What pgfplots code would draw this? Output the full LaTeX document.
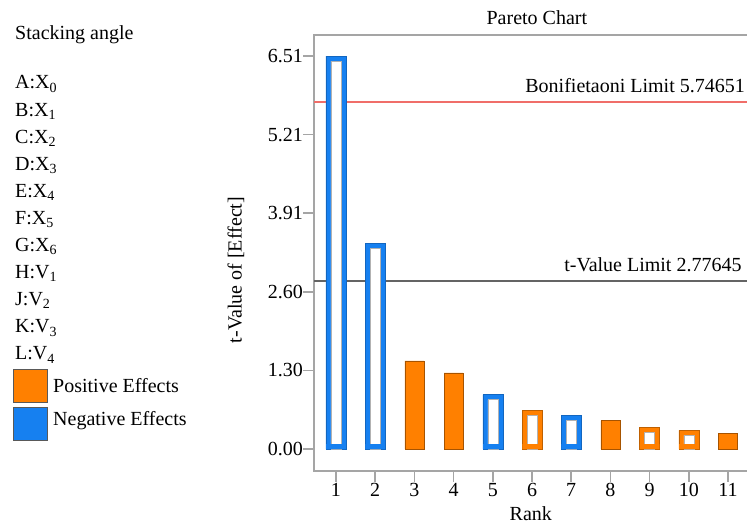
\documentclass[border=0pt]{standalone}
\usepackage{fontspec}
\setmainfont{Liberation Serif}
\usepackage{pgfplots}
\pgfplotsset{compat=1.18}
\definecolor{pblue}{RGB}{22,128,240}
\definecolor{porange}{RGB}{255,128,0}
\definecolor{axgray}{RGB}{165,165,165}
\definecolor{limred}{RGB}{240,110,105}
\definecolor{limgray}{RGB}{100,100,100}
\begin{document}
\fontsize{20}{24}\selectfont
\begin{tikzpicture}
\useasboundingbox (0,0) rectangle (747pt,527pt);
% left key
\node[anchor=base west, inner sep=0pt] at (15pt,487pt) {Stacking angle};
\node[anchor=base west, inner sep=0pt] at (15pt,438pt) {A:X\textsubscript{0}};
\node[anchor=base west, inner sep=0pt] at (15pt,410.9pt) {B:X\textsubscript{1}};
\node[anchor=base west, inner sep=0pt] at (15pt,383.8pt) {C:X\textsubscript{2}};
\node[anchor=base west, inner sep=0pt] at (15pt,356.7pt) {D:X\textsubscript{3}};
\node[anchor=base west, inner sep=0pt] at (15pt,329.6pt) {E:X\textsubscript{4}};
\node[anchor=base west, inner sep=0pt] at (15pt,302.5pt) {F:X\textsubscript{5}};
\node[anchor=base west, inner sep=0pt] at (15pt,275.4pt) {G:X\textsubscript{6}};
\node[anchor=base west, inner sep=0pt] at (15pt,248.3pt) {H:V\textsubscript{1}};
\node[anchor=base west, inner sep=0pt] at (15pt,221.2pt) {J:V\textsubscript{2}};
\node[anchor=base west, inner sep=0pt] at (15pt,194.1pt) {K:V\textsubscript{3}};
\node[anchor=base west, inner sep=0pt] at (15pt,167pt) {L:V\textsubscript{4}};
\filldraw[fill=porange, draw=black!65, line width=0.8pt] (13pt,125pt) rectangle (47pt,158pt);
\filldraw[fill=pblue, draw=black!65, line width=0.8pt] (13pt,87pt) rectangle (47pt,120pt);
\node[anchor=base west, inner sep=0pt] at (53pt,134pt) {Positive Effects};
\node[anchor=base west, inner sep=0pt] at (53pt,101pt) {Negative Effects};

\begin{axis}[
  at={(314pt,56pt)}, anchor=south west,
  scale only axis, width=433.6pt, height=436pt,
  xmin=0.439, xmax=11.5, ymin=-0.364, ymax=6.858,
  axis line style={draw=axgray, line width=1.5pt},
  tick style={draw=axgray, line width=1.5pt},
  tick align=outside, major tick length=11pt,
  tick pos=left,
  xtick={1,2,3,4,5,6,7,8,9,10,11},
  ytick={0,1.302,2.604,3.906,5.208,6.51},
  yticklabels={0.00,1.30,2.60,3.91,5.21,6.51},
  /pgf/number format/assume math mode=true,
  tick label style={font=\fontsize{20}{24}\selectfont},
  label style={font=\fontsize{20}{24}\selectfont},
  xticklabel style={anchor=base, inner sep=0pt, yshift=-15pt},
  yticklabel style={anchor=east, inner sep=0pt},
  title={Pareto Chart},
  title style={at={(axis description cs:0.514,1)}, anchor=base, yshift=4pt, inner sep=0pt, font=\fontsize{20}{24}\selectfont},
  xlabel={Rank},
  xlabel style={at={(axis description cs:0.5,0)}, anchor=base, yshift=-50pt, inner sep=0pt},
  ylabel={t-Value of [Effect]},
  ylabel style={at={(axis description cs:-0.180,0.461)}, anchor=center, inner sep=0pt},
]
% limit lines
\addplot[limred, line width=2pt] coordinates {(0.439,5.74651) (11.5,5.74651)};
\addplot[limgray, line width=2pt] coordinates {(0.439,2.77645) (11.5,2.77645)};
% hollow bars: outer
\addplot[ybar, bar width=20pt, bar shift=0pt, fill=pblue, draw=pblue!80!black, line width=0.5pt]
  coordinates {(1,6.51) (2,3.41) (5,0.90) (7,0.563)};
\addplot[ybar, bar width=20pt, bar shift=0pt, fill=porange, draw=porange!75!black, line width=0.5pt]
  coordinates {(6,0.646) (9,0.364) (10,0.308)};
% hollow bars: inner
\addplot[ybar, bar width=10pt, bar shift=0pt, fill=white, draw=black!30, line width=0.5pt]
  coordinates {(1,6.427) (2,3.327) (5,0.817) (6,0.563) (7,0.480) (9,0.281) (10,0.225)};
% hollow bars: base strip
\addplot[ybar, bar width=19.5pt, bar shift=0pt, fill=pblue, draw=none]
  coordinates {(1,0.083) (2,0.083) (5,0.083) (7,0.083)};
\addplot[ybar, bar width=19.5pt, bar shift=0pt, fill=porange, draw=none]
  coordinates {(6,0.083) (9,0.083) (10,0.083)};
% filled bars
\addplot[ybar, bar width=19pt, bar shift=0pt, fill=porange, draw=porange!65!black, line width=0.5pt]
  coordinates {(3,1.46) (4,1.26) (8,0.469) (11,0.253)};
% annotations
\node[anchor=base east, inner sep=0pt, yshift=10pt] at (axis cs:11.434,5.74651) {Bonifietaoni Limit 5.74651};
\node[anchor=base east, inner sep=0pt, yshift=10pt] at (axis cs:11.35,2.77645) {t-Value Limit 2.77645};
\end{axis}
\end{tikzpicture}
\end{document}
